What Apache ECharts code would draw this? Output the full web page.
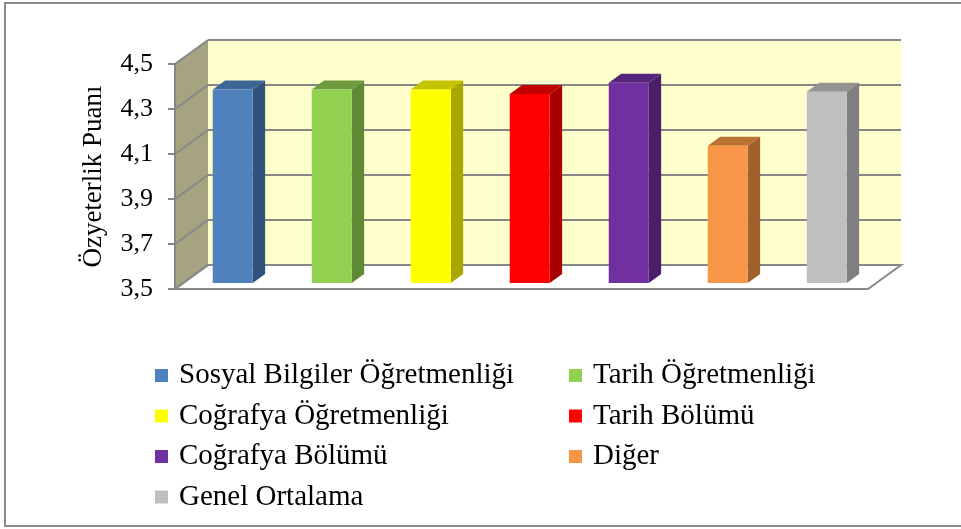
<!DOCTYPE html>
<html>
<head>
<meta charset="utf-8">
<script src="https://cdn.jsdelivr.net/npm/echarts@6/dist/echarts.min.js"></script>
<style>
  html, body { margin: 0; padding: 0; background: #fff; }
  #chart { width: 961px; height: 529px; }
</style>
</head>
<body>
<div id="chart"></div>
<script>
// --- data ---
const categories = [
  'Sosyal Bilgiler Öğretmenliği',
  'Tarih Öğretmenliği',
  'Coğrafya Öğretmenliği',
  'Tarih Bölümü',
  'Coğrafya Bölümü',
  'Diğer',
  'Genel Ortalama',
]
const scores = [4.36, 4.36, 4.36, 4.34, 4.39, 4.11, 4.35]
const yTicks = [3.5, 3.7, 3.9, 4.1, 4.3, 4.5]
const leftLegend = ['Sosyal Bilgiler Öğretmenliği', 'Coğrafya Öğretmenliği', 'Coğrafya Bölümü', 'Genel Ortalama']
const rightLegend = ['Tarih Öğretmenliği', 'Tarih Bölümü', 'Diğer']

// --- styles ---
const frontColors = ['#4f81bd', '#92d050', '#ffff00', '#ff0000', '#7030a0', '#f79646', '#bfbfbf']
const sideColors = ['#31527b', '#5e8a33', '#a8a800', '#a80000', '#4a1f6a', '#a0612d', '#7f7f7f']
const topColors = ['#3c6698', '#6f9b3c', '#c4c400', '#c20000', '#56257c', '#bb7233', '#939393']
const DEPTH_X = 33 // back wall offset, px
const DEPTH_Y = -24
const BAR_D0 = 0.25 // bar front / back, as part of depth
const BAR_D1 = 0.625
const BAR_W = 40
const GRID_COLOR = '#878787'
const FONT = "'Liberation Serif', serif"

const chart = echarts.init(document.getElementById('chart'))

// walls, floor and grid lines of the 3D box
function renderWalls(params, api) {
  const cs = params.coordSys
  const x0 = cs.x
  const x1 = cs.x + cs.width
  const yLo = api.coord([0, yTicks[0]])[1]
  const yHi = api.coord([0, yTicks[yTicks.length - 1]])[1]
  const children = []
  // back wall
  children.push({
    type: 'rect',
    shape: { x: x0 + DEPTH_X, y: yHi + DEPTH_Y, width: cs.width, height: yLo - yHi },
    style: { fill: '#ffffcc' },
  })
  // side wall
  children.push({
    type: 'polygon',
    shape: { points: [[x0, yHi], [x0 + DEPTH_X, yHi + DEPTH_Y], [x0 + DEPTH_X, yLo + DEPTH_Y], [x0, yLo]] },
    style: { fill: '#a6a381' },
  })
  // floor
  children.push({
    type: 'polygon',
    shape: { points: [[x0, yLo], [x1, yLo], [x1 + DEPTH_X, yLo + DEPTH_Y], [x0 + DEPTH_X, yLo + DEPTH_Y]] },
    style: { fill: '#ffffff', stroke: GRID_COLOR, lineWidth: 2 },
  })
  yTicks.forEach((t) => {
    const y = api.coord([0, t])[1]
    children.push({
      type: 'line',
      shape: { x1: x0 + DEPTH_X, y1: y + DEPTH_Y, x2: x1 + DEPTH_X, y2: y + DEPTH_Y },
      style: { stroke: GRID_COLOR, lineWidth: 2 },
    })
    children.push({
      type: 'line',
      shape: { x1: x0, y1: y, x2: x0 + DEPTH_X, y2: y + DEPTH_Y },
      style: { stroke: GRID_COLOR, lineWidth: 2 },
    })
  })
  // front axis line
  children.push({
    type: 'line',
    shape: { x1: x0, y1: yHi, x2: x0, y2: yLo + 1 },
    style: { stroke: GRID_COLOR, lineWidth: 2 },
  })
  return { type: 'group', children }
}

// one 3D column: front, side and top faces
function renderBar(params, api) {
  const i = params.seriesIndex - 1
  const cat = api.value(0)
  const base = api.coord([cat, yTicks[0]])
  const top = api.coord([cat, api.value(1)])
  const fx = DEPTH_X * BAR_D0
  const fy = DEPTH_Y * BAR_D0
  const bx = DEPTH_X * BAR_D1
  const by = DEPTH_Y * BAR_D1
  const xl = base[0] - BAR_W / 2
  const xr = base[0] + BAR_W / 2
  return {
    type: 'group',
    children: [
      {
        type: 'polygon',
        shape: { points: [[xr + fx, top[1] + fy], [xr + bx, top[1] + by], [xr + bx, base[1] + by], [xr + fx, base[1] + fy]] },
        style: { fill: sideColors[i] },
      },
      {
        type: 'polygon',
        shape: { points: [[xl + fx, top[1] + fy], [xr + fx, top[1] + fy], [xr + bx, top[1] + by], [xl + bx, top[1] + by]] },
        style: { fill: topColors[i] },
      },
      {
        type: 'rect',
        shape: { x: xl + fx, y: top[1] + fy, width: BAR_W, height: base[1] - top[1] },
        style: { fill: frontColors[i] },
      },
    ],
  }
}

const legendCommon = {
  orient: 'vertical',
  top: 356,
  icon: 'rect',
  itemWidth: 13,
  itemHeight: 13,
  itemGap: 11.5,
  selectedMode: false,
  textStyle: { fontFamily: FONT, fontSize: 29, color: '#000', padding: [0, 0, 0, 6] },
}

const option = {
  animation: false,
  backgroundColor: '#fff',
  graphic: [
    {
      type: 'rect',
      shape: { x: 5, y: 3, width: 1000, height: 523 },
      style: { fill: 'none', stroke: '#8c8c8c', lineWidth: 2 },
      z: 100,
    },
  ],
  legend: [
    { ...legendCommon, left: 150, data: leftLegend },
    { ...legendCommon, left: 564, data: rightLegend },
  ],
  grid: { left: 175, right: 93, top: 64, bottom: 240 },
  xAxis: {
    type: 'category',
    data: categories,
    show: false,
  },
  yAxis: {
    type: 'value',
    min: 3.5,
    max: 4.5,
    interval: 0.2,
    name: 'Özyeterlik Puanı',
    nameLocation: 'middle',
    nameRotate: 90,
    nameGap: 68,
    nameTextStyle: { fontFamily: FONT, fontSize: 27, color: '#000' },
    axisLine: { show: false },
    axisTick: { show: true, length: 7, lineStyle: { color: GRID_COLOR, width: 2 } },
    splitLine: { show: false },
    axisLabel: {
      fontFamily: FONT,
      fontSize: 26,
      color: '#000',
      margin: 22,
      formatter: (v) => v.toFixed(1).replace('.', ','),
    },
  },
  series: [
    {
      type: 'custom',
      name: 'walls',
      silent: true,
      clip: false,
      z: 1,
      renderItem: renderWalls,
      data: [[0, yTicks[0]]],
    },
    ...categories.map((name, i) => ({
      type: 'custom',
      name,
      clip: false,
      z: 2,
      itemStyle: { color: frontColors[i] },
      renderItem: renderBar,
      data: [[i, scores[i]]],
    })),
  ],
}

chart.setOption(option)
</script>
</body>
</html>
